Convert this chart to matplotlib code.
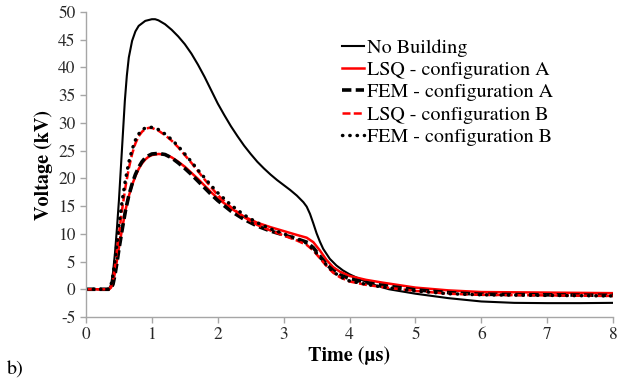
import matplotlib
matplotlib.use('Agg')
import matplotlib.pyplot as plt

plt.rcParams['font.family'] = 'serif'
plt.rcParams['font.serif'] = ['TeX Gyre Termes', 'FreeSerif', 'Liberation Serif', 'DejaVu Serif']
plt.rcParams['axes.unicode_minus'] = False

# Time (us) and voltage (kV)
t_nb = [0, 0.3, 0.35, 0.38, 0.41, 0.44, 0.47, 0.5, 0.53, 0.56, 0.59, 0.62, 0.65, 0.7, 0.75, 0.8,
        0.9, 1.0, 1.05, 1.1, 1.2, 1.3, 1.4, 1.5, 1.6, 1.7, 1.8, 1.9, 2.0, 2.1, 2.2, 2.3, 2.4, 2.5,
        2.6, 2.7, 2.8, 2.9, 3.0, 3.1, 3.2, 3.3, 3.35, 3.4, 3.45, 3.5, 3.55, 3.6, 3.7, 3.8, 3.9, 4.0,
        4.2, 4.4, 4.6, 4.8, 5.0, 5.25, 5.5, 5.75, 6.0, 6.5, 7.0, 7.5, 8.0]
v_nb = [0, 0, 0.1, 0.8, 3.0, 6.5, 11.0, 16.0, 22.0, 28.0, 34.0, 38.5, 41.8, 44.8, 46.5, 47.5,
        48.4, 48.7, 48.7, 48.5, 47.8, 46.8, 45.6, 44.2, 42.5, 40.5, 38.3, 35.9, 33.5, 31.4, 29.4, 27.6, 25.9, 24.4,
        23.0, 21.8, 20.7, 19.7, 18.8, 17.9, 16.9, 15.7, 14.9, 13.6, 11.9, 10.1, 8.6, 7.3, 5.5, 4.3, 3.4, 2.7,
        1.6, 0.7, 0.0, -0.4, -0.8, -1.2, -1.6, -1.9, -2.2, -2.45, -2.5, -2.5, -2.45]

t_cfg = [0, 0.35, 0.38, 0.41, 0.44, 0.47, 0.5, 0.55, 0.6, 0.65, 0.7, 0.75, 0.8, 0.85, 0.9, 0.95,
         1.0, 1.1, 1.2, 1.3, 1.4, 1.5, 1.6, 1.7, 1.8, 1.9, 2.0, 2.2, 2.4, 2.6, 2.8, 3.0, 3.2, 3.35,
         3.45, 3.55, 3.65, 3.75, 3.85, 4.0, 4.25, 4.5, 5.0, 5.5, 6.0, 7.0, 8.0]
v_lsq_a = [0, 0, 0.3, 1.2, 3.0, 5.2, 7.5, 11.0, 14.3, 16.8, 18.8, 20.4, 21.7, 22.7, 23.4, 23.9,
           24.2, 24.4, 24.3, 23.8, 23.0, 22.1, 21.0, 19.9, 18.7, 17.5, 16.4, 14.6, 13.1, 12.0, 11.2, 10.5, 9.8, 9.3,
           8.5, 7.0, 5.3, 4.0, 3.2, 2.4, 1.7, 1.2, 0.3, -0.2, -0.5, -0.6, -0.7]
v_fem_a = [0, 0, 0.2, 0.9, 2.6, 4.8, 7.2, 10.8, 14.2, 16.9, 19.0, 20.7, 22.0, 23.0, 23.7, 24.1,
           24.4, 24.5, 24.3, 23.7, 22.8, 21.8, 20.7, 19.5, 18.3, 17.1, 16.0, 14.1, 12.6, 11.4, 10.5, 9.8, 9.1, 8.5,
           7.5, 6.0, 4.5, 3.4, 2.6, 1.9, 1.2, 0.7, -0.1, -0.6, -0.9, -1.0, -1.1]
v_lsq_b = [0, 0, 0.5, 1.8, 4.2, 7.0, 10.0, 14.5, 18.5, 21.8, 24.4, 26.3, 27.6, 28.4, 28.9, 29.1,
           29.1, 28.6, 27.8, 26.8, 25.6, 24.2, 22.8, 21.3, 19.8, 18.4, 17.0, 14.8, 13.0, 11.6, 10.6, 9.7, 8.8, 8.0,
           7.0, 5.6, 4.2, 3.0, 2.2, 1.4, 0.8, 0.4, -0.3, -0.8, -1.0, -1.1, -1.2]
v_fem_b = [0, 0, 0.8, 2.6, 5.2, 8.2, 11.5, 16.0, 19.8, 22.9, 25.2, 26.9, 28.0, 28.7, 29.1, 29.2,
           29.2, 28.8, 28.0, 27.0, 25.8, 24.4, 23.0, 21.5, 20.1, 18.7, 17.4, 15.2, 13.4, 12.0, 10.9, 10.0, 9.1, 8.3,
           7.2, 5.8, 4.4, 3.2, 2.3, 1.5, 0.9, 0.4, -0.3, -0.8, -1.0, -1.1, -1.2]

labels = ['No Building', 'LSQ - configuration A', 'FEM - configuration A',
          'LSQ - configuration B', 'FEM - configuration B']

fig = plt.figure(figsize=(6.19, 3.80), dpi=100)
ax = fig.add_axes([0.1389, 0.1658, 0.8515, 0.8026])

ax.plot(t_nb, v_nb, color='black', lw=1.5, label=labels[0])
ax.plot(t_cfg, v_lsq_a, color='red', lw=1.8, label=labels[1])
ax.plot(t_cfg, v_fem_a, color='black', lw=2.6, dashes=(2.6, 1.2), label=labels[2])
ax.plot(t_cfg, v_lsq_b, color='red', lw=1.8, dashes=(3.2, 1.3), label=labels[3])
ax.plot(t_cfg, v_fem_b, color='black', lw=2.5, dashes=(0.1, 2.0), dash_capstyle='round', label=labels[4])

ax.set_xlim(0, 8)
ax.set_ylim(-5, 50)
ax.set_xticks(range(0, 9))
ax.set_yticks(range(-5, 51, 5))
for s in ['top', 'right']:
    ax.spines[s].set_visible(False)
for s in ['left', 'bottom']:
    ax.spines[s].set_color('#a6a6a6')
    ax.spines[s].set_linewidth(1.0)
ax.tick_params(colors='#a6a6a6', labelcolor='#262626', labelsize=12.5, length=4, width=1.0, direction='out')

ax.set_xlabel('Time (\u00b5s)', fontsize=14.5, fontweight='bold', labelpad=2)
ax.set_ylabel('Voltage (kV)', fontsize=14.5, fontweight='bold', labelpad=4)

fig.legend(loc='upper left', bbox_to_anchor=(0.552, 0.897), frameon=False, fontsize=14.5,
           handlelength=1.1, handletextpad=0.15, labelspacing=0.2, borderpad=0, borderaxespad=0)

fig.text(0.011, 0.015, 'b)', fontsize=14.5)

fig.savefig('out.png', dpi=100)
plt.close()
